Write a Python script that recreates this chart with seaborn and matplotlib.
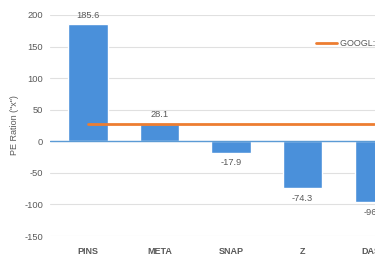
import matplotlib
matplotlib.use("Agg")
import matplotlib.pyplot as plt
import seaborn as sns
import pandas as pd

# data
tickers = ["PINS", "META", "SNAP", "Z", "DASH"]
pe_ratios = [185.6, 28.1, -17.9, -74.3, -96.8]
googl_pe = 27.5
googl_label = "GOOGL: 27.5x"
y_ticks = [200, 150, 100, 50, 0, -50, -100, -150]

bar_color = "#4A90DA"
line_color = "#ED7D31"
text_color = "#595959"

sns.set_theme(style="white")
plt.rcParams["font.family"] = ["Liberation Sans", "DejaVu Sans"]

df = pd.DataFrame({"ticker": tickers, "pe": pe_ratios})

fig = plt.figure(figsize=(3.75, 2.59), dpi=100)
# axes run past the right edge, like the cropped original
ax = fig.add_axes([50 / 375, 23 / 259, 360 / 375, 221 / 259])

sns.barplot(data=df, x="ticker", y="pe", color=bar_color, width=0.55,
            saturation=1, ax=ax, zorder=2)

# GOOGL benchmark line across all categories
line_df = pd.DataFrame({"x": range(len(tickers)), "y": [googl_pe] * len(tickers)})
sns.lineplot(data=line_df, x="x", y="y", color=line_color, linewidth=2,
             label=googl_label, ax=ax, zorder=3)

# value labels
for i, v in enumerate(pe_ratios):
    if v >= 0:
        ax.annotate(f"{v:.1f}", (i, v), xytext=(0, 3), textcoords="offset points",
                    ha="center", va="bottom", fontsize=6.7, color=text_color)
    else:
        ax.annotate(f"{v:.1f}", (i, v), xytext=(0, -4), textcoords="offset points",
                    ha="center", va="top", fontsize=6.7, color=text_color)

ax.set_xlim(-0.53, len(tickers) - 0.5)
ax.set_ylim(-150, 200)
ax.set_yticks(y_ticks)
ax.set_yticklabels([str(t) for t in y_ticks], fontsize=6.7, color=text_color)
ax.set_xticks(range(len(tickers)))
ax.set_xticklabels(tickers, fontsize=6.5, fontweight="bold", color=text_color)
ax.tick_params(axis="y", length=0, pad=5)
ax.tick_params(axis="x", length=0, pad=8)

ax.set_xlabel("")
ax.set_ylabel('PE Ration ("x")', fontsize=6.5, color=text_color, labelpad=4)

ax.grid(axis="y", color="#E0E0E0", linewidth=0.8, zorder=0)
ax.set_axisbelow(True)
for s in ax.spines.values():
    s.set_visible(False)
ax.axhline(0, color="#5B9BD5", linewidth=1, zorder=2.5)

ax.legend(loc="center left", bbox_to_anchor=(0.739, 0.869), frameon=False,
          fontsize=6.5, handlelength=2.3, handletextpad=0.4, borderpad=0,
          borderaxespad=0, labelcolor=text_color)

fig.savefig("out.png", dpi=100)
